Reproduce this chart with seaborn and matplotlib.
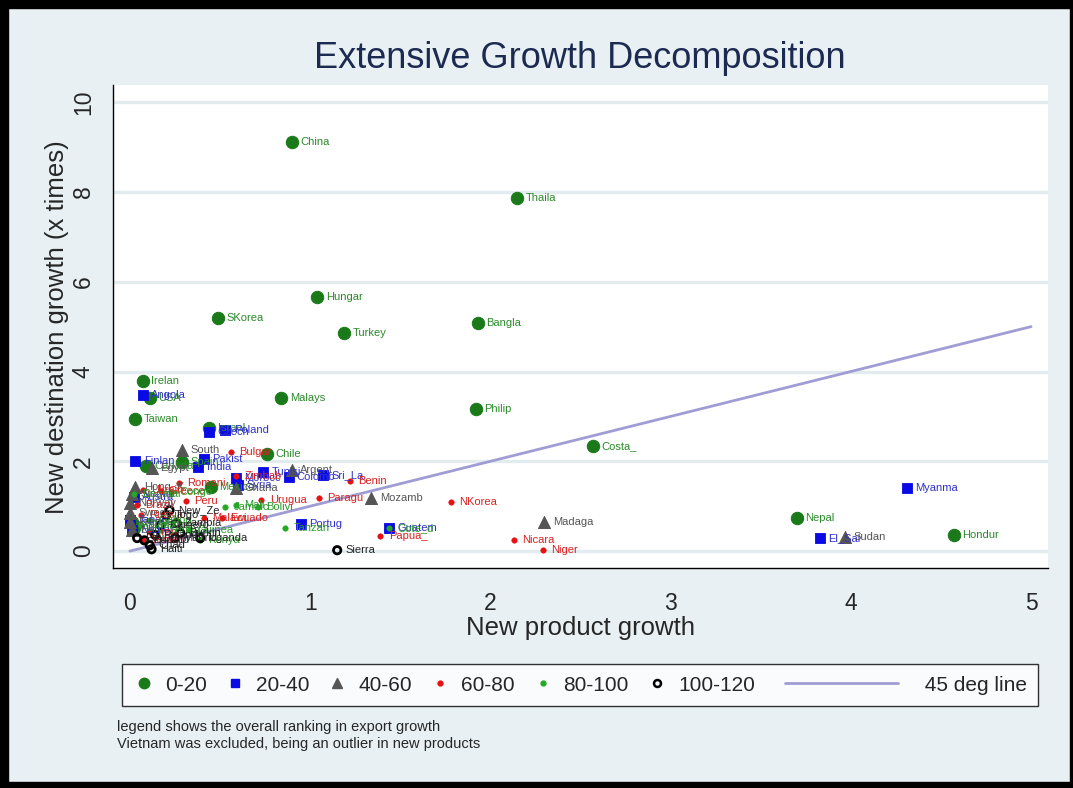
import numpy as np
import pandas as pd
import matplotlib
matplotlib.use("Agg")
import matplotlib.pyplot as plt
from matplotlib.lines import Line2D
from matplotlib.patches import Rectangle
from matplotlib.legend_handler import HandlerLine2D
import seaborn as sns

# group 0-20 (big green circles)
g1_names = ["China", "Thaila", "Hungar", "SKorea", "Bangla", "Turkey", "Irelan", "USA", "Malays",
            "Philip", "Taiwan", "Israel", "Costa_", "Chile", "Spain", "Canada", "Mexico", "Nepal",
            "Hondur", "German", "Austri"]
g1_x = [0.90, 2.15, 1.04, 0.49, 1.93, 1.19, 0.07, 0.11, 0.84, 1.92, 0.03, 0.44, 2.57, 0.76, 0.29,
        0.09, 0.45, 3.70, 4.57, 0.01, 0.02]
g1_y = [9.11, 7.86, 5.66, 5.19, 5.08, 4.86, 3.79, 3.41, 3.41, 3.16, 2.94, 2.74, 2.34, 2.16, 1.98,
        1.89, 1.43, 0.73, 0.36, 0.65, 0.51]

# group 20-40 (blue squares)
g2_names = ["Angola", "Czech", "Poland", "Finlan", "Pakist", "India", "Tunisi", "Morocc", "Syria",
            "Colomb", "Sri_La", "Portug", "Guatem", "Myanma", "El_Sal", "Austra", "Japan", "Nether"]
g2_x = [0.07, 0.44, 0.53, 0.03, 0.41, 0.38, 0.74, 0.59, 0.60, 0.88, 1.07, 0.95, 1.44, 4.31, 3.83,
        0.02, 0.00, 0.01]
g2_y = [3.47, 2.65, 2.69, 2.00, 2.05, 1.87, 1.76, 1.63, 1.47, 1.65, 1.69, 0.60, 0.51, 1.40, 0.29,
        1.20, 0.69, 0.47]

# group 40-60 (grey triangles)
g3_names = ["South", "Argent", "Egypt", "Ghana", "Mozamb", "Madaga", "Sudan", "Hong_K", "Singap",
            "Swede", "Norway", "France", "UK"]
g3_x = [0.29, 0.90, 0.12, 0.59, 1.34, 2.30, 3.97, 0.03, 0.01, 0.00, 0.00, 0.00, 0.01]
g3_y = [2.25, 1.80, 1.85, 1.40, 1.18, 0.65, 0.31, 1.43, 1.27, 0.85, 1.07, 0.65, 0.47]

# group 60-80 (small red dots)
g4_names = ["Bulgar", "Romani", "Greece", "Peru", "Brazil", "Zimbab", "Benin", "Urugua", "Paragu",
            "NKorea", "Papua_", "Nicara", "Niger", "Malawi", "Ecuado", "Ukrain", "Russia", "Iran",
            "Yemen"]
g4_x = [0.56, 0.27, 0.17, 0.31, 0.04, 0.59, 1.22, 0.73, 1.05, 1.78, 1.39, 2.13, 2.29, 0.41, 0.51,
        0.07, 0.06, 0.11, 0.07]
g4_y = [2.20, 1.51, 1.34, 1.11, 1.02, 1.67, 1.56, 1.14, 1.18, 1.09, 0.33, 0.25, 0.02, 0.73, 0.73,
        1.36, 0.80, 0.42, 0.24]

# group 80-100 (small green dots)
g5_names = ["Tanzan", "Mali", "Bolivi", "Jamaic", "Kenya", "Guinea", "Congo", "Denmar", "Cote_d",
            "Gabon", "Cambod", "Senega"]
g5_x = [0.86, 0.59, 0.71, 0.53, 0.39, 0.33, 0.23, 0.02, 1.44, 0.11, 0.06, 0.17]
g5_y = [0.51, 1.02, 0.98, 0.98, 0.24, 0.47, 1.31, 1.27, 0.51, 0.69, 0.58, 0.47]

# group 100-120 (black hollow circles)
g6_names = ["Sierra", "Haiti", "Togo", "Zambia", "Uganda", "New_Ze", "Camero", "Burkin", "Rwanda",
            "Burund", "Ethiop", "Chad", "Mauric"]
g6_x = [1.15, 0.12, 0.20, 0.26, 0.39, 0.22, 0.17, 0.28, 0.14, 0.08, 0.04, 0.11, 0.25]
g6_y = [0.02, 0.04, 0.80, 0.62, 0.29, 0.91, 0.58, 0.40, 0.36, 0.24, 0.29, 0.13, 0.29]

line_x = [0, 5]
line_y = [0, 5]

groups = [
    ("0-20", g1_names, g1_x, g1_y, dict(marker="o", s=80, color="#1a7a1a", edgecolor="#1a7a1a"), "#2a8a2a"),
    ("20-40", g2_names, g2_x, g2_y, dict(marker="s", s=58, color="#0a0ae6", edgecolor="#0a0ae6"), "#3030c8"),
    ("40-60", g3_names, g3_x, g3_y, dict(marker="^", s=75, color="#555555", edgecolor="#555555"), "#555555"),
    ("60-80", g4_names, g4_x, g4_y, dict(marker="o", s=16, color="#e81010", edgecolor="#e81010"), "#d82020"),
    ("80-100", g5_names, g5_x, g5_y, dict(marker="o", s=16, color="#22aa22", edgecolor="#22aa22"), "#2a9a2a"),
    ("100-120", g6_names, g6_x, g6_y, dict(marker="o", s=28, facecolor="none", edgecolor="black", linewidth=2), "#222222"),
]


class LongLine(HandlerLine2D):
    # draw the legend line over the padded label area
    def create_artists(self, legend, orig_handle, xdescent, ydescent, width, height, fontsize, trans):
        ln = Line2D([-xdescent + width * 0.6, -xdescent + width * 6.0], [height / 2 - ydescent] * 2,
                    color=orig_handle.get_color(), lw=orig_handle.get_linewidth())
        ln.set_transform(trans)
        return [ln]


bg = "#e8f0f3"
sns.set_style("white")
plt.rcParams["font.family"] = ["Liberation Sans", "DejaVu Sans"]

fig = plt.figure(figsize=(10.73, 7.88), dpi=100, facecolor=bg)
ax = fig.add_axes([0.1053, 0.279, 0.8714, 0.613])
ax.set_facecolor("white")

for y in range(0, 11, 2):
    ax.axhline(y, color="#e2ecef", lw=2.4, zorder=0)

sns.lineplot(x=line_x, y=line_y, ax=ax, color="#a09cd4", lw=2, zorder=1)

for name, names, xs, ys, kw, lc in groups:
    df = pd.DataFrame({"x": xs, "y": ys, "lab": names})
    sns.scatterplot(data=df, x="x", y="y", ax=ax, zorder=3, legend=False, **kw)
    for _, r in df.iterrows():
        ax.annotate(r["lab"], (r["x"], r["y"]), xytext=(6, 0), textcoords="offset points",
                    va="center", ha="left", fontsize=8, color=lc, zorder=4)

ax.set_xlim(-0.094, 5.094)
ax.set_ylim(-0.38, 10.38)
ax.set_xticks([0, 1, 2, 3, 4, 5])
ax.set_yticks([0, 2, 4, 6, 8, 10])
ax.tick_params(axis="both", direction="out", length=8, width=1, labelsize=16.5, color="black")
ax.tick_params(axis="x", pad=9)
ax.tick_params(axis="y", pad=5)
for t in ax.get_yticklabels():
    t.set_rotation(90)
    t.set_va("center")
ax.set_xlabel("New product growth", fontsize=18.5, labelpad=1)
ax.set_ylabel("New destination growth (x times)", fontsize=18.5, labelpad=2)
for s in ["top", "right"]:
    ax.spines[s].set_visible(False)
for s in ["left", "bottom"]:
    ax.spines[s].set_color("black")
    ax.spines[s].set_linewidth(1)

fig.text(0.54, 0.926, "Extensive Growth Decomposition", ha="center", va="center",
         fontsize=26, color="#1c2a52")

line_handle = Line2D([], [], color="#a09cd4", lw=2)
handles = [
    Line2D([], [], ls="", marker="o", ms=7.5, color="#1a7a1a"),
    Line2D([], [], ls="", marker="s", ms=6, color="#0a0ae6"),
    Line2D([], [], ls="", marker="^", ms=6.5, color="#555555"),
    Line2D([], [], ls="", marker="o", ms=3.5, color="#e81010"),
    Line2D([], [], ls="", marker="o", ms=3.5, color="#22aa22"),
    Line2D([], [], ls="", marker="o", ms=5, mfc="none", mec="black", mew=1.8),
    line_handle,
]
labels = [g[0] for g in groups] + ["                     45 deg line"]
leg = fig.legend(handles, labels, loc="lower left", bbox_to_anchor=(0.1137, 0.104, 0.854, 0.0635),
                 mode="expand", ncol=7, fontsize=15, frameon=True, fancybox=False,
                 edgecolor="black", facecolor="white", handletextpad=0.5, borderaxespad=0,
                 borderpad=0.55, handlelength=1.0, handler_map={line_handle: LongLine()})
leg.get_frame().set_linewidth(1)

fig.text(0.109, 0.0774, "legend shows the overall ranking in export growth", fontsize=10.5,
         va="center", ha="left")
fig.text(0.109, 0.0558, "Vietnam was excluded, being an outlier in new products", fontsize=10.5,
         va="center", ha="left")

# black frame around the figure
for (x0, y0, w, h) in [(0, 0, 8 / 1073, 1), (0, 1 - 8 / 788, 1, 8 / 788),
                       (1 - 3 / 1073, 0, 3 / 1073, 1), (0, 0, 1, 6 / 788)]:
    fig.patches.append(Rectangle((x0, y0), w, h, transform=fig.transFigure,
                                 color="black", zorder=10))

fig.savefig("out.png", dpi=100, facecolor=bg)
